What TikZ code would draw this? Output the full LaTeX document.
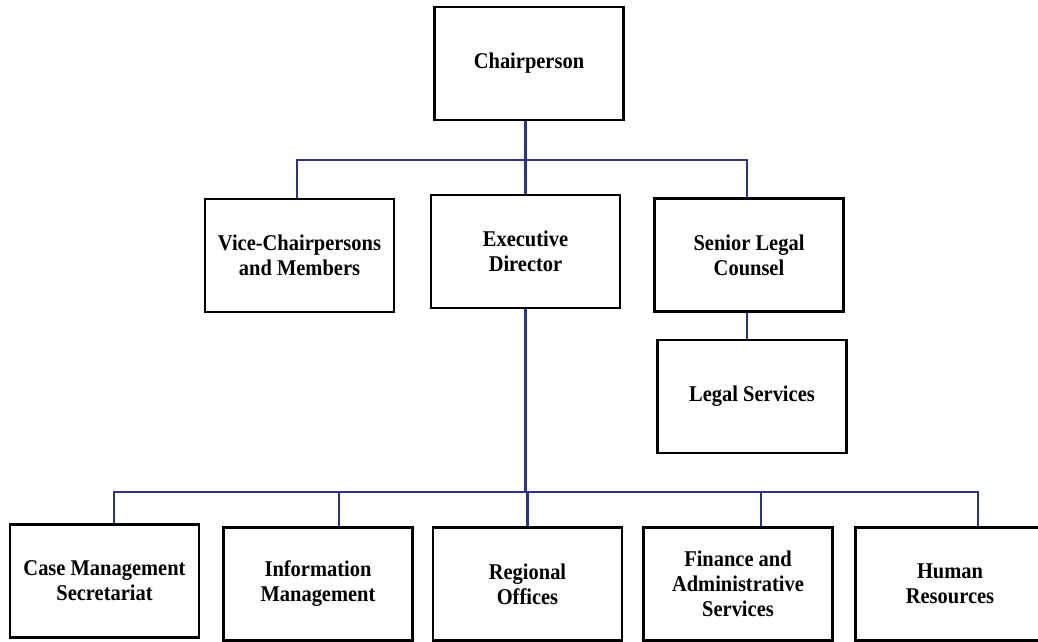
\documentclass[tikz,border=0pt]{standalone}
\usepackage{fontspec}
\setmainfont{Liberation Serif}[FakeStretch=0.91]
\usepackage{tikz}
\definecolor{ll}{RGB}{46, 50, 140}
\tikzset{unit/.style={rectangle, draw=black, line width=2.2pt, minimum width=189pt, minimum height=113pt, inner sep=0pt, align=center, font=\fontsize{22.5}{25}\selectfont\bfseries},
link/.style={line width=2.8pt, color=ll}}

\begin{document}
\begin{tikzpicture}
\useasboundingbox (0pt,0pt) rectangle (1038pt,-641pt);
\node (chair) [unit] at (529pt, -63.5pt) {Chairperson};
\node (vice) [unit] at (299.5pt, -255.5pt) {Vice-Chairpersons\\and Members};
\node (exec) [unit] at (525.5pt, -251.5pt) {Executive\\Director};
\node (senior) [unit] at (749pt, -255pt) {Senior Legal\\Counsel};
\node (legal) [unit] at (752pt, -396.5pt) {Legal Services};
\node (case) [unit] at (104.5pt, -581pt) {Case Management\\Secretariat};
\node (info) [unit] at (318pt, -584pt) {Information\\Management};
\node (regional) [unit] at (527.5pt, -584pt) {Regional\\Offices};
\node (finance) [unit] at (738pt, -584pt) {Finance and\\Administrative\\Services};
\node (human) [unit] at (950pt, -584pt) {Human\\Resources};
\coordinate (topbus) at (525.5pt, -160pt);
\coordinate (lowbus) at (525.5pt, -492pt);
\draw [link] (exec.north) -- (exec.north |- chair.south);
\draw [link] ([xshift=-2.5pt]vice.north) |- (topbus) -| ([xshift=-2pt]senior.north);
\draw [link] ([xshift=-2pt]senior.south) -- ([xshift=-2pt]senior.south |- legal.north);
\draw [link] (exec.south) -- (lowbus);
\draw [link] ([xshift=9.5pt]case.north) |- (lowbus) -| ([xshift=28pt]human.north);
\foreach \n/\dx in {info/21pt, regional/0pt, finance/23pt}
  \draw [link] ([xshift=\dx]\n.north) -- ([xshift=\dx]\n.north |- lowbus);
\end{tikzpicture}
\end{document}
